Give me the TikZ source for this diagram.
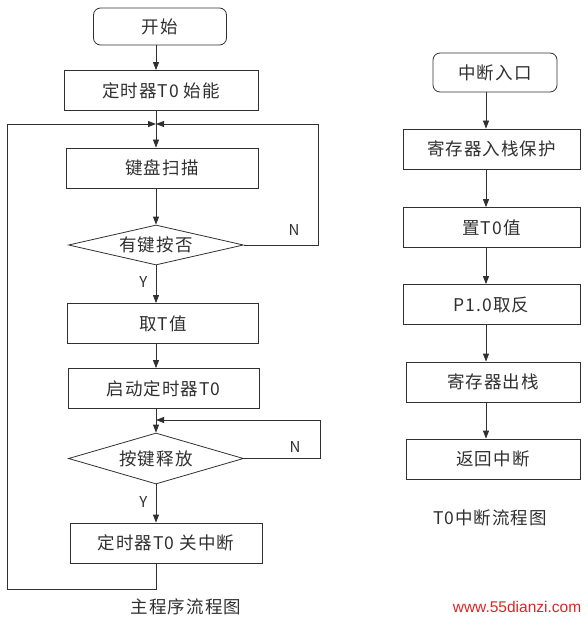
\documentclass[tikz,border=0pt]{standalone}
\usepackage{fontspec}
\newfontfamily\cjk[LetterSpace=6]{Noto Sans CJK SC}
\newfontfamily\cjkplain{Noto Sans CJK SC}
\newfontfamily\wmfont{Liberation Sans}
\usetikzlibrary{shapes.geometric,arrows.meta}
\definecolor{ink}{HTML}{303030}
\definecolor{wmred}{HTML}{E02424}
\begin{document}
\begin{tikzpicture}[x=1pt,y=-1pt,
  lbl/.style={font=\cjk\fontsize{17.5}{19}\selectfont, text=ink},
  box/.style={lbl, draw=ink, line width=0.8pt, minimum width=#1, minimum height=40pt, inner sep=0pt},
  startbox/.style={box=#1, rounded corners=7pt},
  dec/.style={lbl, draw=ink, line width=0.8pt, diamond, aspect=4.4, inner sep=0pt, minimum width=175pt, minimum height=#1},
  yn/.style={font=\cjkplain\fontsize{15}{16}\selectfont, text=ink},
  captext/.style={lbl},
  conn/.style={draw=ink, line width=0.8pt},
  arr/.style={conn, -{Triangle[length=8pt,width=6pt]}}
  ]
\useasboundingbox (0,0) rectangle (587,620);
% column guides
\coordinate (colL) at (156,0);
\coordinate (colR) at (486,0);
\coordinate (j1) at (156,124);
\coordinate (j2) at (156,420);
\coordinate (Lx) at (7,0);
\coordinate (Rx1) at (318,0);
\coordinate (Rx2) at (320,0);
\coordinate (bot) at (0,589);

% main flow
\node[startbox=133, minimum height=37pt] (start) at (160,26.5) {开始};
\node[box=194] (en) at (161,90.5) {定时器T0 始能};
\node[box=192] (scan) at (162,168) {键盘扫描};
\node[dec=40pt] (q1) at (156,245) {有键按否};
\node[box=191] (getT) at (163,323.5) {取T值};
\node[box=191] (st) at (163.5,388.5) {启动定时器T0};
\node[dec=51pt] (q2) at (156,458.5) {按键释放};
\node[box=192] (off) at (166,543) {定时器T0 关中断};
\node[captext] (cap1) at (186,607) {主程序流程图};

\draw[arr] (start.south -| colL) -- (en.north -| colL);
\draw[arr] (en.south -| colL) -- (scan.north -| colL);
\draw[arr] (scan.south -| colL) -- (q1.north);
\draw[arr] (q1.south) -- node[yn, left=5pt, pos=0.45] (y1) {Y} (getT.north -| colL);
\draw[arr] (getT.south -| colL) -- (st.north -| colL);
\draw[arr] (st.south -| colL) -- (q2.north);
\draw[arr] (q2.south) -- node[yn, left=5pt, pos=0.45] (y2) {Y} (off.north -| colL);
\draw[arr] (off.south -| colL) -- (colL |- bot) -- (Lx |- bot) -- (Lx |- j1) -- (j1);
\draw[arr] (q1.east) -- (Rx1 |- q1.east) -- (Rx1 |- j1) -- (j1);
\draw[arr] (q2.east) -- (Rx2 |- q2.east) -- (Rx2 |- j2) -- (j2);
\node[yn] (n1) at (294,230) {N};
\node[yn] (n2) at (295,447) {N};

% interrupt flow
\node[startbox=124, minimum height=39pt] (ent) at (495,72.5) {中断入口};
\node[box=177] (push) at (491.5,149) {寄存器入栈保护};
\node[box=177] (setT) at (491.5,227.5) {置T0值};
\node[box=177] (inv) at (491.5,304.5) {P1.0取反};
\node[box=174] (pop) at (493,382) {寄存器出栈};
\node[box=174] (ret) at (493,459) {返回中断};
\node[captext] (cap2) at (490,518) {T0中断流程图};

\draw[arr] (ent.south -| colR) -- (push.north -| colR);
\draw[arr] (push.south -| colR) -- (setT.north -| colR);
\draw[arr] (setT.south -| colR) -- (inv.north -| colR);
\draw[arr] (inv.south -| colR) -- (pop.north -| colR);
\draw[arr] (pop.south -| colR) -- (ret.north -| colR);

\node[font=\wmfont\fontsize{15.5}{16}\selectfont, text=wmred] (wm) at (517,607) {www.55dianzi.com};
\end{tikzpicture}
\end{document}
